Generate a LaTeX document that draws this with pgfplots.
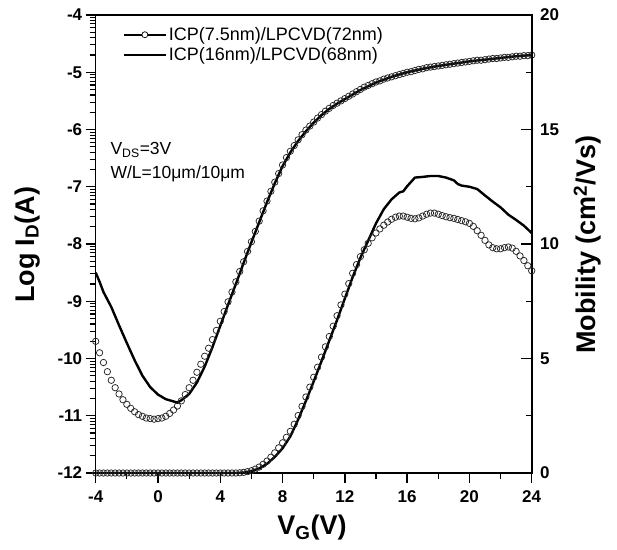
\documentclass[border=0pt]{standalone}
\usepackage{pgfplots}
\usepackage{pgfplotstable}
\pgfplotsset{compat=1.18}
\usepackage{fontspec}
\setmainfont{Liberation Sans}

\pgfplotstableread{
V logI mu
-4 -9.70 0
-3.75 -9.90 0
-3.5 -10.07 0
-3.25 -10.23 0
-3 -10.38 0
-2.75 -10.51 0
-2.5 -10.62 0
-2.25 -10.72 0
-2 -10.80 0
-1.75 -10.87 0
-1.5 -10.93 0
-1.25 -10.98 0
-1 -11.01 0
-0.75 -11.04 0
-0.5 -11.05 0
-0.25 -11.06 0
0 -11.05 0
0.25 -11.04 0
0.5 -11.01 0
0.75 -10.96 0
1 -10.90 0
1.25 -10.83 0
1.5 -10.74 0
1.75 -10.63 0
2 -10.51 0
2.25 -10.38 0
2.5 -10.24 0
2.75 -10.10 0
3 -9.96 0
3.25 -9.82 0
3.5 -9.67 0
3.75 -9.51 0
4 -9.35 0
4.25 -9.18 0
4.5 -9.01 0
4.75 -8.84 0
5 -8.66 0
5.25 -8.48 0.01
5.5 -8.31 0.03
5.75 -8.13 0.06
6 -7.96 0.10
6.25 -7.78 0.17
6.5 -7.60 0.26
6.75 -7.42 0.38
7 -7.25 0.52
7.25 -7.08 0.69
7.5 -6.92 0.88
7.75 -6.77 1.10
8 -6.62 1.32
8.25 -6.49 1.56
8.5 -6.38 1.82
8.75 -6.28 2.13
9 -6.18 2.51
9.25 -6.09 2.91
9.5 -6.01 3.32
9.75 -5.94 3.75
10 -5.87 4.18
10.25 -5.80 4.62
10.5 -5.74 5.06
10.75 -5.68 5.51
11 -5.63 5.96
11.25 -5.58 6.41
11.5 -5.54 6.87
11.75 -5.50 7.34
12 -5.46 7.81
12.25 -5.42 8.27
12.5 -5.38 8.72
12.75 -5.34 9.10
13 -5.30 9.45
13.25 -5.26 9.75
13.5 -5.23 10.03
13.75 -5.20 10.27
14 -5.17 10.48
14.25 -5.15 10.66
14.5 -5.12 10.82
14.75 -5.10 10.96
15 -5.08 11.08
15.25 -5.06 11.17
15.5 -5.04 11.22
15.75 -5.02 11.22
16 -5.00 11.17
16.25 -4.99 11.12
16.5 -4.97 11.10
16.75 -4.95 11.14
17 -4.94 11.22
17.25 -4.92 11.30
17.5 -4.91 11.35
17.75 -4.90 11.35
18 -4.89 11.30
18.25 -4.88 11.24
18.5 -4.87 11.19
18.75 -4.86 11.15
19 -4.85 11.12
19.25 -4.84 11.07
19.5 -4.83 11.02
19.75 -4.82 10.97
20 -4.81 10.90
20.25 -4.80 10.77
20.5 -4.79 10.58
20.75 -4.79 10.38
21 -4.78 10.16
21.25 -4.77 9.96
21.5 -4.76 9.84
21.75 -4.76 9.79
22 -4.75 9.79
22.25 -4.74 9.84
22.5 -4.74 9.87
22.75 -4.73 9.82
23 -4.72 9.68
23.25 -4.72 9.48
23.5 -4.71 9.28
23.75 -4.71 9.05
24 -4.70 8.83
}\circdata

\pgfplotstableread{
V logI
-4 -8.50
-3.75 -8.66
-3.5 -8.84
-3 -9.10
-2.5 -9.42
-2 -9.73
-1.5 -10.03
-1 -10.30
-0.5 -10.50
0 -10.63
0.5 -10.71
1 -10.75
1.25 -10.77
1.5 -10.73
2 -10.62
2.5 -10.42
3 -10.14
3.5 -9.80
4 -9.43
4.5 -9.06
5 -8.70
5.5 -8.33
6 -7.97
6.5 -7.62
7 -7.27
7.5 -6.94
8 -6.64
8.5 -6.40
9 -6.20
9.5 -6.03
10 -5.88
10.5 -5.75
11 -5.64
11.5 -5.55
12 -5.47
13 -5.31
14 -5.18
15 -5.08
16 -5.00
17 -4.94
18 -4.89
19 -4.85
20 -4.81
21 -4.78
22 -4.75
23 -4.72
24 -4.70
}\solidtrans

\pgfplotstableread{
V mu
-4 0
5 0
5.5 0.02
6 0.08
6.5 0.20
7 0.40
7.5 0.70
8 1.08
8.5 1.60
9 2.33
9.5 3.15
10 4.00
10.5 4.88
11 5.78
11.5 6.68
12 7.62
12.5 8.55
13 9.40
13.5 10.15
14 10.90
14.5 11.52
15 11.95
15.5 12.25
15.75 12.30
16 12.52
16.5 12.90
17 12.93
17.5 12.97
18 12.97
18.5 12.90
19 12.78
19.25 12.62
19.5 12.55
20 12.50
20.5 12.40
21 12.12
21.5 11.85
22 11.60
22.5 11.28
23 11.05
23.5 10.80
24 10.48
}\solidmob

\begin{document}
\begin{tikzpicture}
\useasboundingbox (-95.7pt,-76pt) rectangle (521.3pt,473pt);
\begin{axis}[
  at={(0,0)}, anchor=south west,
  scale only axis, width=436pt, height=458pt,
  xmin=-4, xmax=24, ymin=-12, ymax=-4,
  xtick={-4,0,...,24}, minor xtick={-2,2,...,22},
  ytick={-12,-11,...,-4},
  minor ytick={-11.699,-11.523,-11.398,-11.301,-11.222,-11.155,-11.097,-11.046,
    -10.699,-10.523,-10.398,-10.301,-10.222,-10.155,-10.097,-10.046,
    -9.699,-9.523,-9.398,-9.301,-9.222,-9.155,-9.097,-9.046,
    -8.699,-8.523,-8.398,-8.301,-8.222,-8.155,-8.097,-8.046,
    -7.699,-7.523,-7.398,-7.301,-7.222,-7.155,-7.097,-7.046,
    -6.699,-6.523,-6.398,-6.301,-6.222,-6.155,-6.097,-6.046,
    -5.699,-5.523,-5.398,-5.301,-5.222,-5.155,-5.097,-5.046,
    -4.699,-4.523,-4.398,-4.301,-4.222,-4.155,-4.097,-4.046},
  xtick pos=bottom, ytick pos=left,
  tick align=outside,
  major tick length=10pt, minor tick length=6pt,
  axis line style={line width=1.6pt},
  major tick style={line width=1.4pt, black},
  minor tick style={line width=1.1pt, black},
  /pgf/number format/assume math mode=true,
  ticklabel style={font=\fontsize{17}{17}\selectfont\bfseries},
  xticklabel style={yshift=-4pt},
  xlabel={V\textsubscript{G}(V)},
  xlabel style={at={(axis description cs:0.496,-0.12)}, anchor=center, font=\fontsize{27}{27}\selectfont\bfseries},
  ylabel={Log I\textsubscript{D}(A)},
  ylabel style={at={(axis description cs:-0.157,0.498)}, anchor=center, font=\fontsize{27}{27}\selectfont\bfseries},
  legend cell align=left,
  legend style={at={(axis description cs:0.055,0.982)}, anchor=north west, draw=none, fill=none,
    font=\fontsize{18}{20}\selectfont, row sep=1.5pt},
]
\addplot[only marks, mark=o, mark size=3.2pt, mark options={line width=0.75pt, black!85},
  legend image code/.code={\draw[line width=2pt,black] (0pt,0pt) -- (42pt,0pt);
    \draw[black,line width=0.7pt,fill=white] (21pt,0pt) circle (3pt);}]
  table[x=V, y=logI] {\circdata};
\addlegendentry{ICP(7.5nm)/LPCVD(72nm)}
\addplot[black, line width=2.4pt, no marks,
  legend image code/.code={\draw[line width=2pt,black] (0pt,0pt) -- (42pt,0pt);}]
  table[x=V, y=logI] {\solidtrans};
\addlegendentry{ICP(16nm)/LPCVD(68nm)}
\node[anchor=west, font=\fontsize{17.5}{20}\selectfont] at (axis description cs:0.026,0.705) {V\textsubscript{DS}=3V};
\node[anchor=west, font=\fontsize{17.5}{20}\selectfont] at (axis description cs:0.026,0.653) {W/L=10μm/10μm};
\end{axis}
\begin{axis}[
  at={(0,0)}, anchor=south west,
  scale only axis, width=436pt, height=458pt,
  xmin=-4, xmax=24, ymin=0, ymax=20,
  axis x line=none, axis y line*=right,
  ytick={0,5,...,20}, minor ytick={2.5,7.5,12.5,17.5},
  tick align=inside,
  major tick length=11pt, minor tick length=6pt,
  axis line style={line width=1.6pt},
  major tick style={line width=1.4pt, black},
  minor tick style={line width=1.1pt, black},
  /pgf/number format/assume math mode=true,
  yticklabel style={font=\fontsize{17}{17}\selectfont\bfseries, xshift=5pt},
  ylabel={Mobility (cm\textsuperscript{2}/Vs)},
  ylabel style={at={(axis description cs:1.128,0.498)}, anchor=center, font=\fontsize{27}{27}\selectfont\bfseries},
]
\addplot[only marks, mark=o, mark size=3.2pt, mark options={line width=0.75pt, black!85}]
  table[x=V, y=mu] {\circdata};
\addplot[black, line width=2.4pt, no marks] table[x=V, y=mu] {\solidmob};
\end{axis}
\end{tikzpicture}
\end{document}
